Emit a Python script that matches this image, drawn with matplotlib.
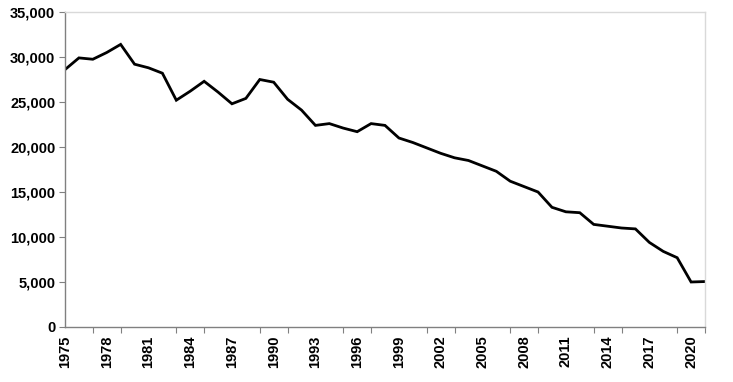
import matplotlib
matplotlib.use("Agg")
import matplotlib.pyplot as plt
from matplotlib.ticker import FuncFormatter

years = list(range(1975, 2022))
values = [28600, 29900, 29750, 30500, 31400, 29200, 28800, 28200, 25200, 26200,
          27300, 26100, 24800, 25400, 27500, 27200, 25300, 24100, 22400, 22600,
          22100, 21700, 22600, 22400, 21000, 20500, 19900, 19300, 18800, 18500,
          17900, 17300, 16200, 15600, 15000, 13300, 12800, 12700, 11400, 11200,
          11000, 10900, 9400, 8400, 7700, 5000, 5050]
label_years = years[::3]
tick_years = years[::2]
y_ticks = [0, 5000, 10000, 15000, 20000, 25000, 30000, 35000]

plt.rcParams['font.family'] = ['Liberation Sans', 'DejaVu Sans']
fig = plt.figure(figsize=(7.33, 3.82), dpi=100)
ax = fig.add_axes([65/733, 55/382, 640/733, 315/382])
ax.plot(years, values, color='black', lw=2.0, solid_joinstyle='miter')
ax.set_xlim(1975, 2021)
ax.set_ylim(0, 35000)
ax.set_yticks(y_ticks)
ax.yaxis.set_major_formatter(FuncFormatter(lambda v, p: f"{int(v):,}"))
ax.set_xticks(label_years)
ax.set_xticklabels([str(y) for y in label_years], rotation=90, fontweight='bold', fontsize=10.5)
ax.set_xticks(tick_years, minor=True)
ax.tick_params(axis='x', which='major', length=0, pad=6)
ax.tick_params(axis='x', which='minor', length=4, color='#808080', width=0.8)
ax.tick_params(axis='y', length=4, color='#808080', width=0.8, labelsize=10.5, pad=3)
for lbl in ax.get_yticklabels():
    lbl.set_fontweight('bold')
for s in ['left', 'bottom']:
    ax.spines[s].set_color('#808080')
    ax.spines[s].set_linewidth(1.0)
for s in ['top', 'right']:
    ax.spines[s].set_color('#d9d9d9')
    ax.spines[s].set_linewidth(1.0)
fig.savefig('out.png', dpi=100)
